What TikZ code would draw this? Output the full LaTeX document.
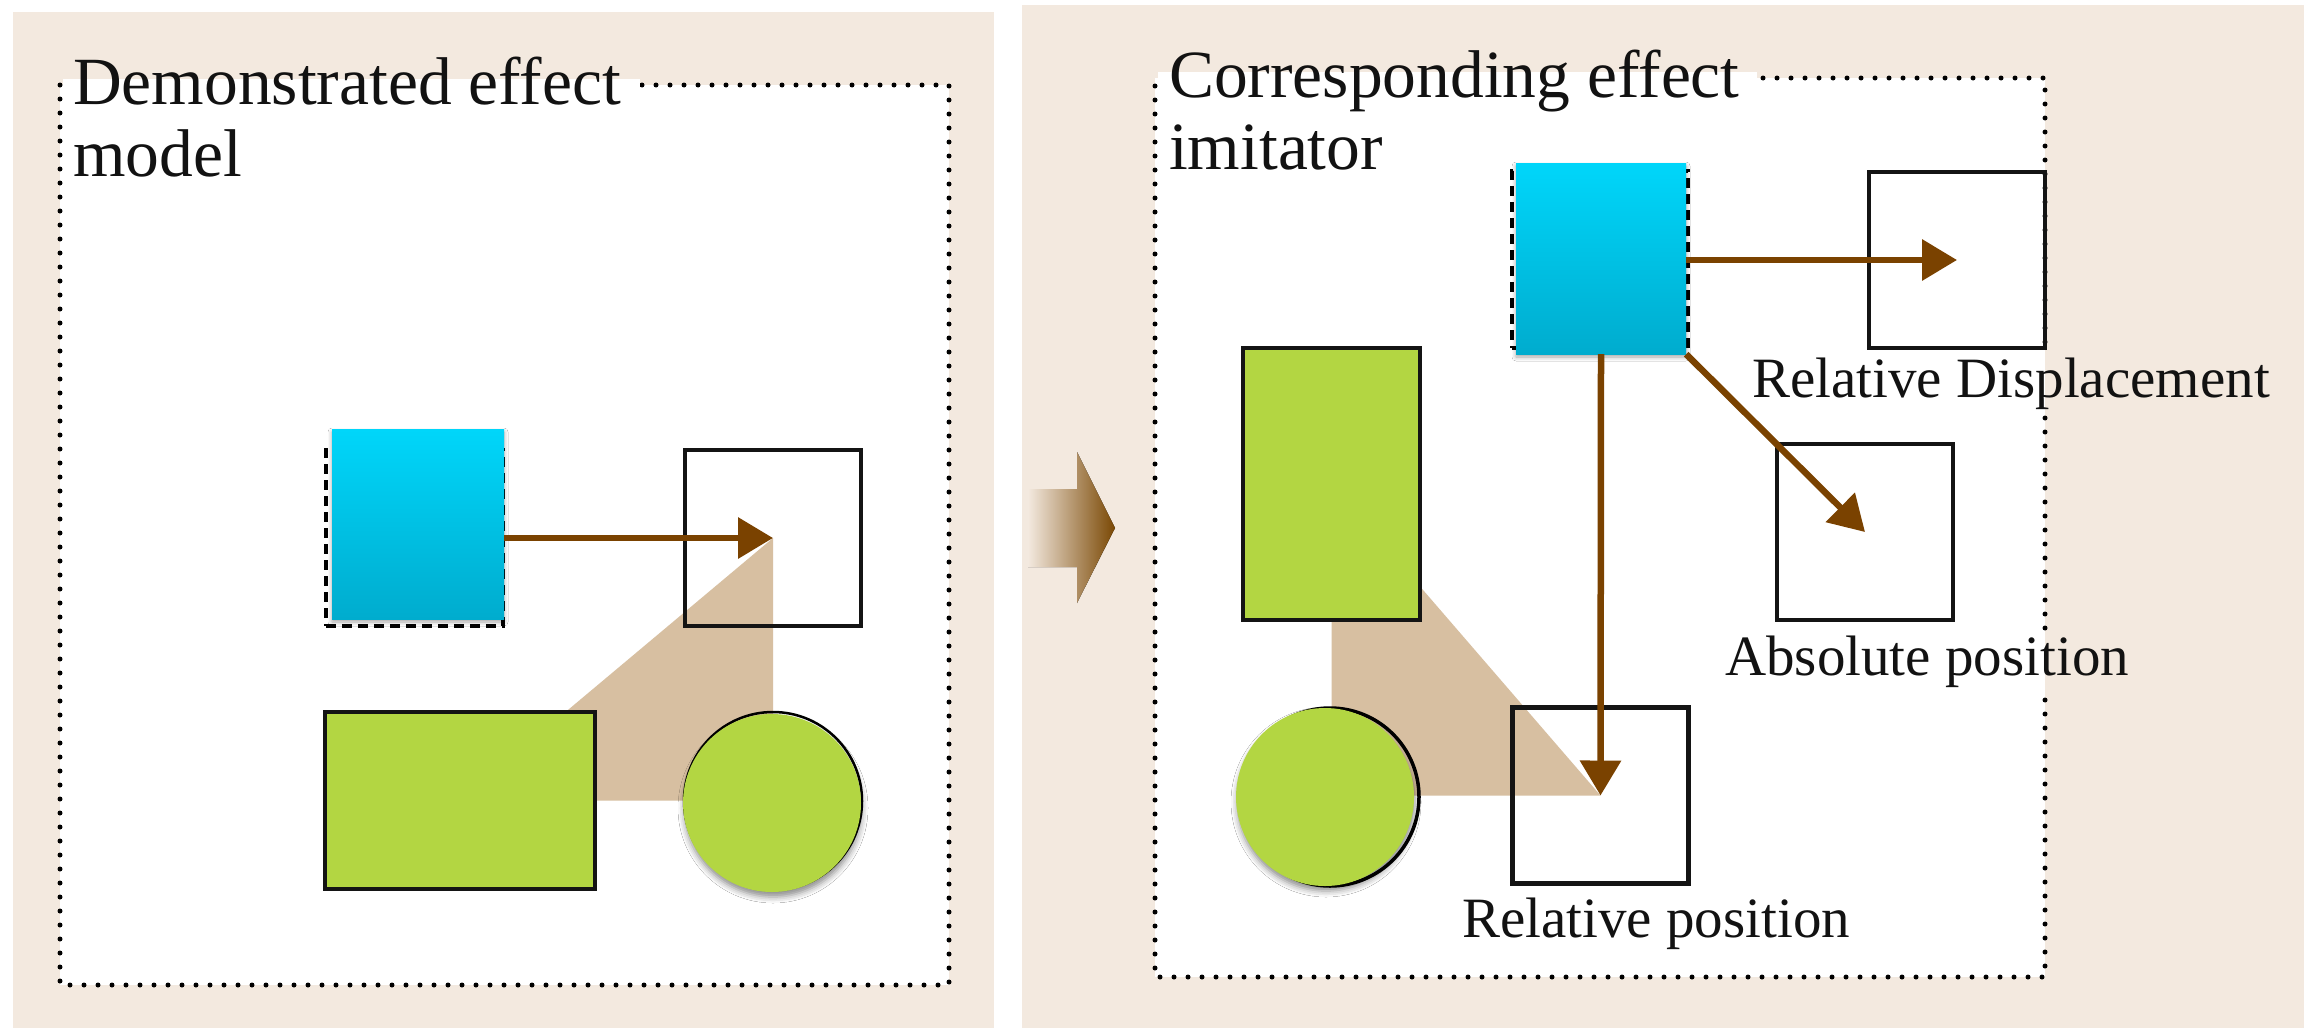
\documentclass[tikz,border=0pt]{standalone}
\usepackage{fontspec}
\setmainfont{Liberation Serif}
\usetikzlibrary{arrows.meta,shadows.blur}

\definecolor{panelbg}{RGB}{243,233,223}
\definecolor{arrowbrown}{RGB}{122,66,0}
\definecolor{tanfill}{RGB}{215,191,161}
\definecolor{limefill}{RGB}{179,214,66}
\definecolor{cyantop}{RGB}{0,214,250}
\definecolor{cyanbot}{RGB}{0,172,206}
\definecolor{bigarrow}{RGB}{122,72,4}
\definecolor{inktext}{RGB}{18,18,18}

\begin{document}
\begin{tikzpicture}[x=1pt,y=-1pt,
  panel/.style={fill=panelbg},
  frame/.style={draw=black, line width=5pt, dash pattern=on 0pt off 14pt, line cap=round},
  target/.style={draw=black!92, line width=4.5pt, minimum width=176pt, minimum height=176pt, inner sep=0pt},
  origin/.style={draw=black, line width=4.5pt, dash pattern=on 10pt off 6pt, inner sep=0pt},
  block/.style={top color=cyantop, bottom color=cyanbot, inner sep=0pt,
    blur shadow={shadow xshift=0pt, shadow yshift=-3pt, shadow blur radius=4pt, shadow opacity=35}},
  limebox/.style={fill=limefill, draw=black!92, line width=4.5pt, inner sep=0pt},
  limeball/.style={circle, fill=limefill, inner sep=0pt, minimum size=178pt,
    blur shadow={shadow xshift=1pt, shadow yshift=-5pt, shadow blur radius=6pt, shadow opacity=45}},
  ballrim/.style={circle, draw=black, inner sep=0pt, minimum size=178pt},
  move/.style={draw=arrowbrown, line width=6.5pt, -{Triangle[length=35pt,width=40pt]}},
  titletext/.style={font=\fontsize{67.5}{72}\selectfont, text=inktext, inner sep=0pt, anchor=base west},
  labeltext/.style={font=\fontsize{57}{64}\selectfont, text=inktext, inner sep=0pt, anchor=base west}
]
\useasboundingbox (0,0) rectangle (2304,1028);
\fill[white] (0,0) rectangle (2304,1028);

% ---------- panel backgrounds ----------
\fill[panel] (13,12) rectangle (994,1028);
\fill[panel] (1022,5) rectangle (2304,1028);

% ---------- left panel: demonstrated effect model ----------
\fill[white] (60,85) rectangle (949,985);
\draw[frame] (60,85) rectangle (949,985);
\fill[white] (63,79) rectangle (640,91);
\node[titletext] (titleL1) at (73,104) {Demonstrated effect};
\node[titletext] (titleL2) at (73,176) {model};

% shapes
\node[target, draw=none] (sqL) at (773,538) {};
\node[minimum width=270pt, minimum height=177pt, inner sep=0pt] (rectL) at (460,800.5) {};
\fill[tanfill] (sqL.center) -- (rectL.center) -- (sqL.center |- rectL.center) -- cycle;
\node[limebox, minimum width=270pt, minimum height=177pt] (rectLfill) at (rectL) {};
\node[ballrim, line width=2.5pt] (rimL) at (773,801) {};
\node[limeball] (ballL) at (772,803) {};
\node[target] (sqLbox) at (sqL) {};
\node[origin, minimum width=177pt, minimum height=176pt] (dashL) at (414.5,538) {};
\node[block, minimum width=172pt, minimum height=190pt] (cyanL) at (418,524) {};
\draw[move] (cyanL.east |- dashL.center) -- (sqL.center);

% ---------- transfer arrow between the panels ----------
\fill[left color=panelbg, right color=bigarrow]
  (1028,489) -- (1077,489) -- (1077,452) -- (1115,528) -- (1077,603) -- (1077,567) -- (1028,567) -- cycle;

% ---------- right panel: corresponding effect imitator ----------
\fill[white] (1155,78) rectangle (2045,977);
\draw[frame] (2045,700) -- (2045,977) -- (1155,977) -- (1155,78) -- (2045,78) -- (2045,350);
\draw[frame] (2045,418) -- (2045,632);
\fill[white] (1158,72) rectangle (1757,84);
\node[titletext] (titleR1) at (1169,97) {Corresponding effect};
\node[titletext] (titleR2) at (1169,169) {imitator};

% target squares
\node[target] (sqD) at (1957,260) {};
\node[target] (sqA) at (1865,532) {};
\node[target, draw=none] (sqP) at (1600.5,795.5) {};

% shapes
\node[minimum width=177pt, minimum height=272pt, inner sep=0pt] (rectR) at (1331.5,484) {};
\fill[tanfill] (rectR.center) -- (rectR.center |- sqP.center) -- (sqP.center) -- cycle;
\node[limebox, minimum width=177pt, minimum height=272pt] (rectRfill) at (rectR) {};
\node[ballrim, line width=3.5pt] (rimR) at (1330,797) {};
\node[limeball] (ballR) at (1325,797) {};
\node[target] (sqPbox) at (sqP) {};
\node[origin, minimum width=176pt, minimum height=177pt] (dashR) at (1600,259.5) {};
\node[block, minimum width=170pt, minimum height=191pt] (cyanR) at (1601,258.5) {};

% displacements
\draw[move] (cyanR.east |- sqD.center) -- (sqD.center);
\draw[move] (cyanR.south east) -- (sqA.center);
\draw[move] (cyanR.south) -- (sqP.center);

% labels
\node[labeltext] (labD) at (1752,397) {Relative Displacement};
\node[labeltext] (labA) at (1725,675) {Absolute position};
\node[labeltext] (labP) at (1462,937) {Relative position};
\end{tikzpicture}
\end{document}
